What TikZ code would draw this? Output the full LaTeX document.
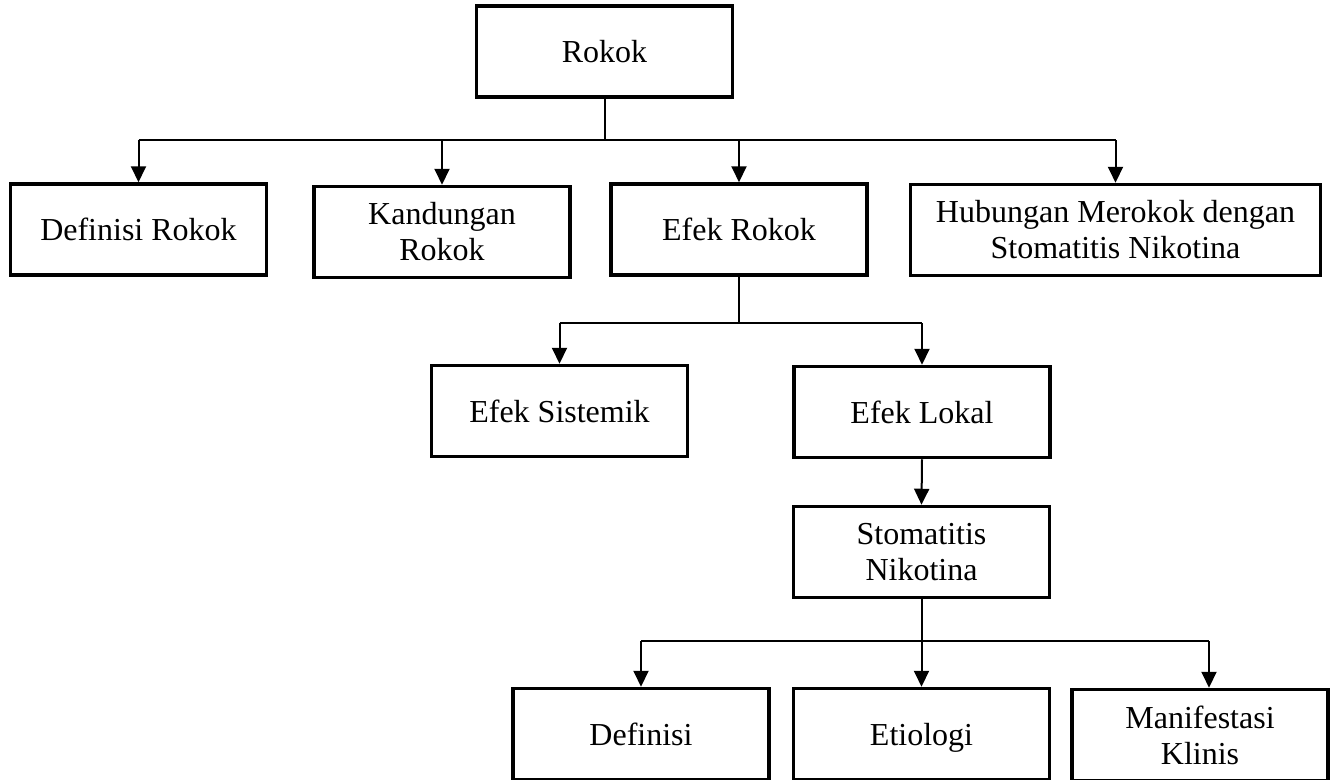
\documentclass[tikz,border=0pt]{standalone}
\usepackage{fontspec}
\setmainfont{Liberation Serif}
\usetikzlibrary{arrows.meta}
\begin{document}
\begin{tikzpicture}[x=1pt,y=-1pt,
  box/.style={draw,line width=3.5pt,minimum width=256pt,minimum height=91pt,inner sep=0pt,align=center,font=\fontsize{32}{36}\selectfont},
  single/.style={text height=27pt,text depth=5pt},
  conn/.style={line width=2pt},
  arr/.style={line width=2pt,-{Triangle[width=15pt,length=16pt]}}]
\path[use as bounding box] (0,0) rectangle (1338,779);
\clip (0,0) rectangle (1338,779);
% level 0
\node[box,single] (rokok) at (604.5,51.5) {Rokok};
% level 1
\node[box,single] (def) at (138.5,229.5) {Definisi Rokok};
\node[box] (kand) at (442,232) {Kandungan\\Rokok};
\node[box,single] (efek) at (739,229.5) {Efek Rokok};
\node[box,minimum width=410pt] (hub) at (1115.5,230) {Hubungan Merokok dengan\\Stomatitis Nikotina};
% level 2
\node[box,single] (sis) at (559.5,411) {Efek Sistemik};
\node[box,single] (lok) at (922,412) {Efek Lokal};
\node[box] (sto) at (921.5,552) {Stomatitis\\Nikotina};
% level 3
\node[box,single] (dfn) at (641,734) {Definisi};
\node[box,single] (eti) at (921.5,734) {Etiologi};
\node[box] (man) at (1200,735) {Manifestasi\\Klinis};
% connectors level 0 -> 1
\coordinate (bus1) at (0,140);
\draw[conn] (rokok.south) -- (rokok.south |- bus1);
\draw[conn] (bus1 -| def.north) -- (bus1 -| hub.north);
\draw[arr] (bus1 -| def.north) -- (def.north);
\draw[arr] (bus1 -| kand.north) -- (kand.north);
\draw[arr] (bus1 -| efek.north) -- (efek.north);
\draw[arr] (bus1 -| hub.north) -- (hub.north);
% connectors level 1 -> 2
\coordinate (bus2) at (0,323);
\draw[conn] (efek.south) -- (efek.south |- bus2);
\draw[conn] (bus2 -| sis.north) -- (bus2 -| lok.north);
\draw[arr] (bus2 -| sis.north) -- (sis.north);
\draw[arr] (bus2 -| lok.north) -- (lok.north);
\draw[arr] (lok.south) -- (sto.north);
% connectors level 2 -> 3
\coordinate (bus3) at (0,641);
\coordinate (m3) at (1209,641);
\draw[conn] (sto.south) -- (sto.south |- bus3);
\draw[conn] (bus3 -| dfn.north) -- (m3);
\draw[arr] (bus3 -| dfn.north) -- (dfn.north);
\draw[arr] (bus3 -| eti.north) -- (eti.north);
\draw[arr] (m3) -- (m3 |- man.north);
\end{tikzpicture}
\end{document}
